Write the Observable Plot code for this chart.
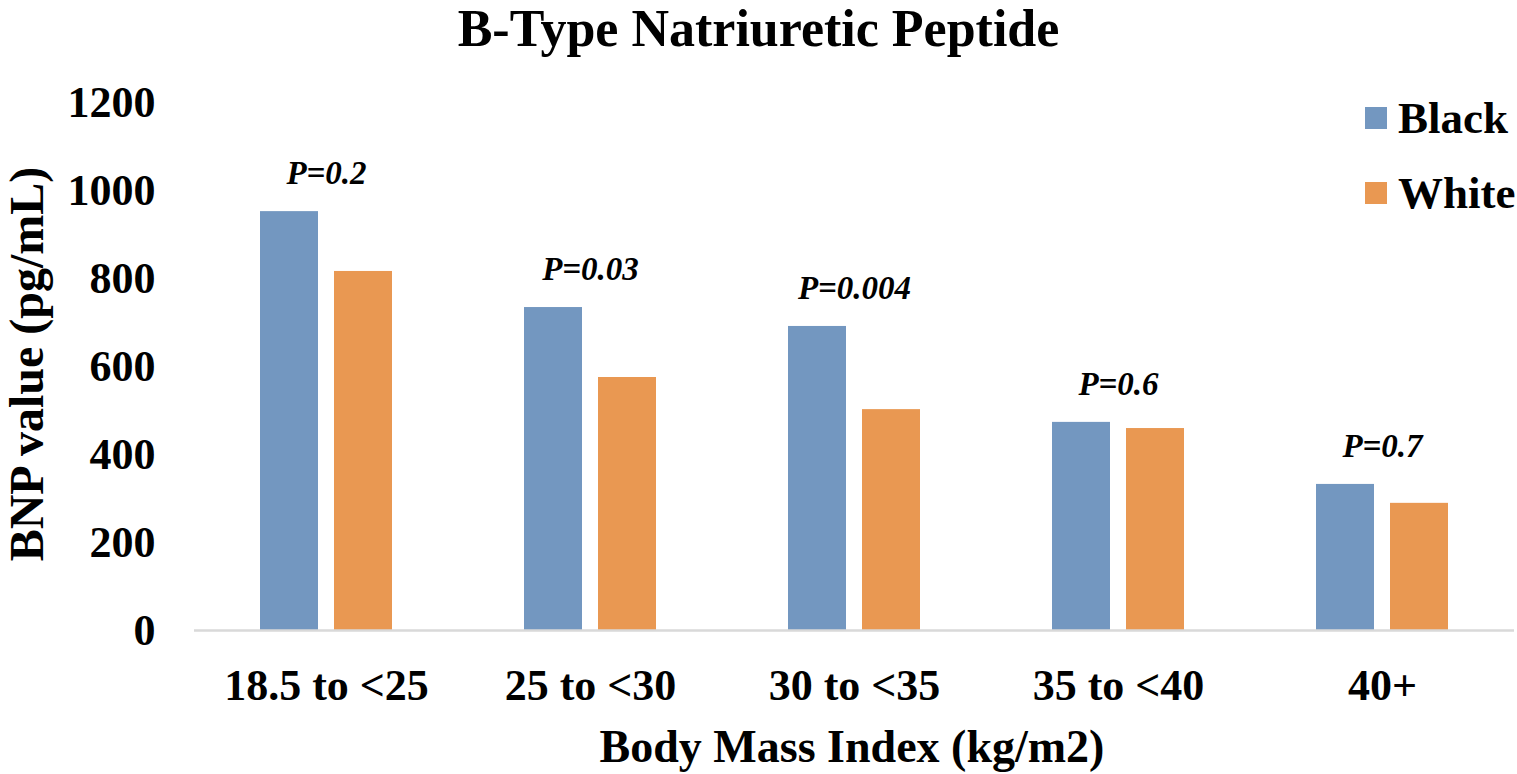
<!DOCTYPE html>
<html>
<head>
<meta charset="utf-8">
<script src="https://cdn.jsdelivr.net/npm/d3@7"></script>
<script src="https://cdn.jsdelivr.net/npm/@observablehq/plot@0.6"></script>
<style>
  html, body { margin: 0; padding: 0; background: #fff; }
  #wrap { position: relative; width: 1517px; height: 774px; overflow: hidden;
          font-family: "Liberation Serif", "Times New Roman", serif; font-weight: bold; color: #000; }
  .abs { position: absolute; white-space: nowrap; }
  #title { left: 0; width: 1517px; text-align: center; top: 0; font-size: 52px; line-height: 58px; }
  #ylabel { left: 27px; top: 364px; font-size: 48px; line-height: 54px; transform: translate(-50%, -50%) rotate(-90deg); }
  #xlabel { left: 852px; top: 724px; font-size: 46px; line-height: 46px; transform: translateX(-50%); }
  .leg { left: 1365px; font-size: 45px; line-height: 50px; display: flex; align-items: center; }
  .sw { width: 22px; height: 22px; margin-right: 11px; }
</style>
</head>
<body>
<div id="wrap"></div>
<script>
const categories = ["18.5 to <25", "25 to <30", "30 to <35", "35 to <40", "40+"];
const seriesNames = ["Black", "White"];
const blackValues = [952, 734, 691, 473, 332];
const whiteValues = [816, 575, 502, 459, 289];
const pLabels = ["P=0.2", "P=0.03", "P=0.004", "P=0.6", "P=0.7"];
const yTicks = [0, 200, 400, 600, 800, 1000, 1200];
const seriesColors = ["#7397c0", "#e99852"];
const titleText = "B-Type Natriuretic Peptide";
const xLabelText = "Body Mass Index (kg/m2)";
const yLabelText = "BNP value (pg/mL)";

const rows = [];
categories.forEach((c, i) => {
  rows.push({cat: c, series: "Black", value: blackValues[i]});
  rows.push({cat: c, series: "White", value: whiteValues[i]});
});
const pRows = categories.map((c, i) => ({cat: c, label: pLabels[i], top: Math.max(blackValues[i], whiteValues[i])}));

const chart = Plot.plot({
  width: 1517,
  height: 774,
  marginTop: 102,
  marginBottom: 144,
  marginLeft: 194,
  marginRight: 3,
  style: {fontFamily: "'Liberation Serif', 'Times New Roman', serif", fontWeight: "bold", fontSize: "44px", background: "white", color: "#000"},
  fx: {domain: categories, padding: 0, label: null, axis: "bottom", tickSize: 0, tickPadding: 38},
  x: {domain: seriesNames, paddingInner: 0.2133, paddingOuter: 0.8667, axis: null},
  y: {domain: [0, 1200], ticks: yTicks, tickSize: 0, tickPadding: 39, label: null, tickFormat: d => String(d)},
  color: {type: "ordinal", domain: seriesNames, range: seriesColors},
  marks: [
    Plot.barY(rows, {fx: "cat", x: "series", y: "value", fill: {value: "series", scale: "color"}}),
    Plot.ruleY([0], {stroke: "#d9d9d9", strokeWidth: 2.5}),
    Plot.text(pRows, {fx: "cat", y: "top", text: "label", dy: -38, fontSize: 33, fontStyle: "italic", fontWeight: "bold", lineAnchor: "middle", fill: "#000"})
  ]
});

const wrap = document.getElementById("wrap");
wrap.appendChild(chart);

function addDiv(id, cls, text) {
  const d = document.createElement("div");
  if (id) d.id = id;
  d.className = cls;
  d.textContent = text;
  wrap.appendChild(d);
  return d;
}
addDiv("title", "abs", titleText);
addDiv("ylabel", "abs", yLabelText);
addDiv("xlabel", "abs", xLabelText);

const legTops = [93, 168];
seriesNames.forEach((s, i) => {
  const item = document.createElement("div");
  item.className = "abs leg";
  item.style.top = legTops[i] + "px";
  const sw = document.createElement("span");
  sw.className = "sw";
  sw.style.background = seriesColors[i];
  const t = document.createElement("span");
  t.textContent = s;
  item.appendChild(sw);
  item.appendChild(t);
  wrap.appendChild(item);
});
</script>
</body>
</html>
